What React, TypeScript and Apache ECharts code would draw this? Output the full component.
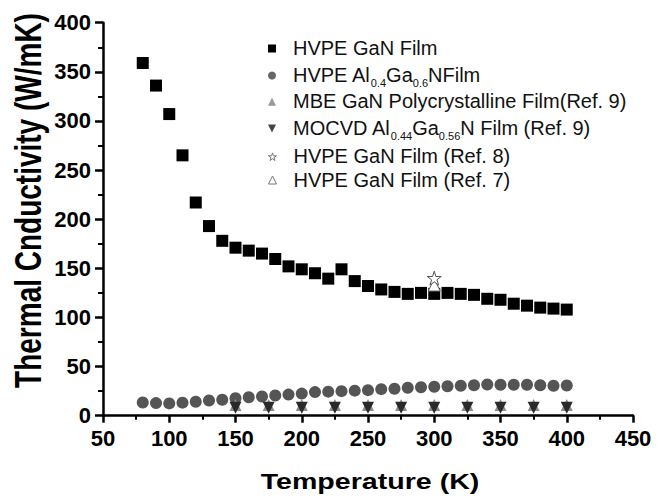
import React, { useEffect, useRef } from "react";
import * as echarts from "echarts";

const FONT = "Liberation Sans";

// HVPE GaN film (squares)
const gaNTemps = [80, 90, 100, 110, 120, 130, 140, 150, 160, 170, 180, 190, 200, 210, 220, 230, 240, 250, 260, 270, 280, 290, 300, 310, 320, 330, 340, 350, 360, 370, 380, 390, 400];
const gaNValues = [359, 336, 307, 265, 217, 193, 178, 171, 168, 165, 159.5, 152, 149, 145, 139.5, 149, 137, 132, 128.5, 126, 124, 125, 124, 125, 124, 123, 119, 118, 114, 112, 110, 109, 108];

// HVPE Al0.4Ga0.6N film (circles)
const alGaNTemps = [80, 90, 100, 110, 120, 130, 140, 150, 160, 170, 180, 190, 200, 210, 220, 230, 240, 250, 260, 270, 280, 290, 300, 310, 320, 330, 340, 350, 360, 370, 380, 390, 400];
const alGaNValues = [13.5, 12.8, 12.5, 13.3, 14.2, 15.5, 16.3, 17.8, 18.8, 19.5, 20.5, 21.5, 22.5, 24, 24.5, 25, 25.5, 26, 27, 27.5, 28.5, 29, 29.5, 30, 30.5, 31, 31.8, 31.5, 31.5, 31.5, 31, 30.5, 30.8];

// Ref. 9 films
const ref9Temps = [150, 175, 200, 225, 250, 275, 300, 325, 350, 375, 400];
const mbeValues = [11, 11, 11, 11, 11, 11, 11, 11, 11, 11, 11];
const mocvdValues = [8, 8, 8, 8, 8, 8, 8, 8, 8, 8, 8];

// Ref. 8 and Ref. 7
const ref8Temps = [300];
const ref8Values = [140];
const ref7Temps = [300];
const ref7Values = [133];

const seriesNames = [
  "HVPE GaN Film",
  "HVPE Al0.4Ga0.6NFilm",
  "MBE GaN Polycrystalline Film(Ref. 9)",
  "MOCVD Al0.44Ga0.56N Film (Ref. 9)",
  "HVPE GaN Film (Ref. 8)",
  "HVPE GaN Film (Ref. 7)",
];
const legendRich = [
  "{g| }{m|HVPE GaN Film}",
  "{g| }{m|HVPE Al}{s|0.4}{m|Ga}{s|0.6}{m|NFilm}",
  "{g| }{m|MBE GaN Polycrystalline Film(Ref. 9)}",
  "{g| }{m|MOCVD Al}{s|0.44}{m|Ga}{s|0.56}{m|N Film (Ref. 9)}",
  "{g| }{m|HVPE GaN Film (Ref. 8)}",
  "{g| }{m|HVPE GaN Film (Ref. 7)}",
];
const legendCenters = [48.5, 73.5, 101.7, 126.5, 156.7, 180];

const xMin = 50, xMax = 450, xInterval = 50;
const yMin = 0, yMax = 400, yInterval = 50;

const DOWN_TRI = "path://M0,0 L10,0 L5,10 Z";
const STAR = "path://M50,0 L61.17,34.63 L97.55,34.55 L68.07,55.87 L79.39,90.45 L50,69 L20.61,90.45 L31.93,55.87 L2.45,34.55 L38.83,34.63 Z";

const zip = (xs: number[], ys: number[]) => xs.map((x, i) => [x, ys[i]]);

export default function App() {
  const ref = useRef<HTMLDivElement>(null);
  useEffect(() => {
    if (!ref.current) return;
    const chart = echarts.init(ref.current, undefined, { renderer: "svg" });

    const axisCommon = {
      type: "value" as const,
      axisLine: { show: true, lineStyle: { color: "#000", width: 2.5 } },
      axisTick: { show: true, inside: false, length: 7, lineStyle: { color: "#000", width: 2.5 } },
      minorTick: { show: true, splitNumber: 2, length: 4, lineStyle: { color: "#000", width: 2 } },
      splitLine: { show: false },
      minorSplitLine: { show: false },
    };

    const seriesStyles = [
      { color: "#000", opacity: 1 },
      { color: "#555", opacity: 1 },
      { color: "#8c8c8c", opacity: 1 },
      { color: "#2a2a2a", opacity: 1 },
      { color: "#fff", borderColor: "#555", borderWidth: 1, opacity: 1 },
      { color: "#fff", borderColor: "#666", borderWidth: 1, opacity: 1 },
    ];
    const legendStyles = [
      { color: "#000", opacity: 1 },
      { color: "#666", opacity: 1 },
      { color: "#999", opacity: 1 },
      { color: "#444", opacity: 1 },
      { color: "#fff", borderColor: "#777", borderWidth: 1, opacity: 1 },
      { color: "#fff", borderColor: "#777", borderWidth: 1, opacity: 1 },
    ];
    const legendIcons = ["rect", "circle", "triangle", DOWN_TRI, STAR, "triangle"];

    const legends = seriesNames.map((name, i) => ({
      data: [{ name, icon: legendIcons[i], itemStyle: legendStyles[i] }],
      left: 268,
      top: legendCenters[i] - 10.5,
      orient: "vertical" as const,
      itemWidth: 8,
      itemHeight: 8,
      itemGap: 0,
      padding: 0,
      selectedMode: false,
      formatter: () => legendRich[i],
      textStyle: {
        fontFamily: FONT,
        fontSize: 20,
        lineHeight: 21,
        color: "#111",
        rich: {
          g: { width: 12, lineHeight: 21, verticalAlign: "top", fontSize: 20, fontFamily: FONT },
          m: { fontSize: 20, lineHeight: 21, verticalAlign: "top", color: "#111", fontFamily: FONT },
          s: { fontSize: 11, lineHeight: 12, padding: [14, 0, 0, 0], color: "#111", fontFamily: FONT },
        },
      },
    }));

    chart.setOption({
      animation: false,
      backgroundColor: "#fff",
      grid: { left: 103, right: 32, top: 22.7, bottom: 83.3, containLabel: false },
      xAxis: {
        ...axisCommon,
        min: xMin,
        max: xMax,
        interval: xInterval,
        axisLabel: { fontSize: 22, fontWeight: "bold", color: "#000", fontFamily: FONT, margin: 12 },
      },
      yAxis: {
        ...axisCommon,
        min: yMin,
        max: yMax,
        interval: yInterval,
        axisTick: { ...axisCommon.axisTick, length: 8 },
        minorTick: { ...axisCommon.minorTick, length: 5 },
        axisLabel: { fontSize: 22, fontWeight: "bold", color: "#000", fontFamily: FONT, margin: 12 },
      },
      legend: legends,
      graphic: [
        {
          type: "text",
          x: 370,
          y: 481,
          scaleX: 1.3,
          style: {
            text: "Temperature (K)",
            font: "bold 22px Liberation Sans",
            fill: "#000",
            align: "center",
            verticalAlign: "middle",
          },
        },
        {
          type: "text",
          x: 29,
          y: 200.5,
          rotation: Math.PI / 2,
          scaleY: 1.3,
          style: {
            text: "Thermal Cnductivity (W/mK)",
            font: "bold 28px Liberation Sans",
            fill: "#000",
            align: "center",
            verticalAlign: "middle",
          },
        },
      ],
      series: [
        {
          name: seriesNames[0],
          type: "scatter",
          symbol: "rect",
          symbolSize: 12,
          itemStyle: seriesStyles[0],
          data: zip(gaNTemps, gaNValues),
          z: 2,
        },
        {
          name: seriesNames[1],
          type: "scatter",
          symbol: "circle",
          symbolSize: 12,
          itemStyle: seriesStyles[1],
          data: zip(alGaNTemps, alGaNValues),
          z: 2,
        },
        {
          name: seriesNames[2],
          type: "scatter",
          symbol: "triangle",
          symbolSize: 12,
          itemStyle: seriesStyles[2],
          data: zip(ref9Temps, mbeValues),
          z: 3,
        },
        {
          name: seriesNames[3],
          type: "scatter",
          symbol: DOWN_TRI,
          symbolSize: 12,
          itemStyle: seriesStyles[3],
          data: zip(ref9Temps, mocvdValues),
          z: 4,
        },
        {
          name: seriesNames[4],
          type: "scatter",
          symbol: STAR,
          symbolSize: 14,
          itemStyle: seriesStyles[4],
          data: zip(ref8Temps, ref8Values),
          z: 5,
        },
        {
          name: seriesNames[5],
          type: "scatter",
          symbol: "triangle",
          symbolSize: 12,
          itemStyle: seriesStyles[5],
          data: zip(ref7Temps, ref7Values),
          z: 4,
        },
      ],
    });
    return () => chart.dispose();
  }, []);

  return (
    <div
      ref={ref}
      style={{ position: "absolute", left: 0, top: 0, width: 665, height: 499, background: "#fff" }}
    />
  );
}
